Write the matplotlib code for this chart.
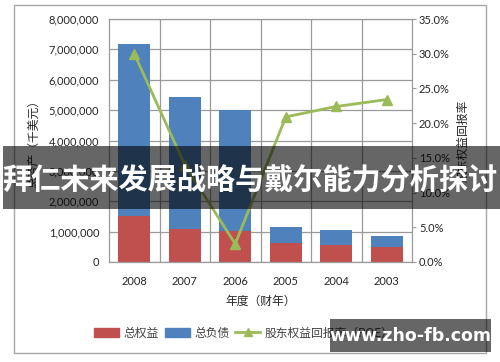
import matplotlib
matplotlib.use("Agg")
import matplotlib.pyplot as plt
from matplotlib.patches import Rectangle, Patch
from matplotlib.lines import Line2D
from matplotlib.ticker import FuncFormatter, MultipleLocator
import numpy as np

plt.rcParams['font.family'] = ['Lato', 'Noto Sans CJK SC', 'DejaVu Sans']

years = ['2008', '2007', '2006', '2005', '2004', '2003']
equity = [1500000, 1100000, 1020000, 640000, 550000, 500000]
liabilities = [5680000, 4330000, 4000000, 500000, 490000, 350000]
roe = [30.0, 14.0, 2.6, 20.9, 22.4, 23.4]

RED = '#C0504D'
BLUE = '#4F81BD'
GREEN = '#9BBB59'
GRID = '#9a9a9a'
TXT = '#262626'
CJK = ['Noto Sans CJK SC', 'DejaVu Sans']

fig = plt.figure(figsize=(5.0, 3.62), dpi=100)
fig.patch.set_facecolor('white')

# outer chart border
fig.patches.append(Rectangle((14/500, 1 - 353/362), (486-14)/500, (353-5)/362,
                             transform=fig.transFigure, fill=False,
                             edgecolor='#a6a6a6', linewidth=1.0, zorder=0))

ax = fig.add_axes([109/500, 1 - 262/362, (412-109)/500, (262-19)/362])
x = np.arange(len(years))
ax.bar(x, equity, width=0.63, color=RED, zorder=2)
ax.bar(x, liabilities, width=0.63, bottom=equity, color=BLUE, zorder=2)
ax.set_xlim(-0.5, len(years) - 0.5)
ax.set_ylim(0, 8000000)
ax.yaxis.set_major_locator(MultipleLocator(1000000))
ax.yaxis.set_major_formatter(FuncFormatter(lambda v, p: f'{int(v):,}'))
ax.set_xticks(x)
ax.set_xticklabels(years)
ax.set_xticks(np.arange(0.5, len(years) - 0.5, 1), minor=True)
ax.grid(True, axis='y', which='major', color=GRID, linewidth=0.9)
ax.grid(True, axis='x', which='minor', color=GRID, linewidth=0.9)
ax.set_axisbelow(True)
ax.tick_params(axis='both', which='both', length=0, labelsize=8, colors=TXT)
ax.tick_params(axis='y', pad=7)
ax.tick_params(axis='x', pad=10)
for s in ax.spines.values():
    s.set_color(GRID)
    s.set_linewidth(0.9)
ax.set_ylabel('总资产（千美元）', family=CJK, fontsize=8.5, color=TXT, labelpad=6)
ax.set_xlabel('年度（财年）', family=CJK, fontsize=8.5, color=TXT, labelpad=6)

ax2 = ax.twinx()
ax2.plot(x, roe, color=GREEN, linewidth=2.0, marker='^', markersize=7,
         markerfacecolor=GREEN, markeredgecolor=GREEN, zorder=3)
ax2.set_ylim(0, 35)
ax2.yaxis.set_major_locator(MultipleLocator(5))
ax2.yaxis.set_major_formatter(FuncFormatter(lambda v, p: f'{v:.1f}%'))
ax2.tick_params(axis='y', length=3, width=0.8, labelsize=8, pad=2)
ax2.tick_params(axis='y', colors=GRID, labelcolor=TXT)
for s in ax2.spines.values():
    s.set_visible(False)
ax2.set_ylabel('股东权益回报率', family=CJK, fontsize=8.5, color=TXT, labelpad=5)

handles = [Patch(facecolor=RED, edgecolor=RED),
           Patch(facecolor=BLUE, edgecolor=BLUE),
           Line2D([0], [0], color=GREEN, linewidth=2.0, marker='^', markersize=6)]
labels = ['总权益', '总负债', '股东权益回报率（ROE）']
leg = fig.legend(handles, labels, loc='center', bbox_to_anchor=(244/500, 1 - 333/362),
                 ncol=3, frameon=False, prop={'family': CJK, 'size': 8.5},
                 handlelength=2.1, handleheight=0.7, handletextpad=0.4,
                 columnspacing=0.5)
for t in leg.get_texts():
    t.set_color('#404040')

# banner overlay
fig.patches.append(Rectangle((3/500, 1 - 209/362), (500-3)/500, (209-146)/362,
                             transform=fig.transFigure, facecolor='black',
                             alpha=0.6, edgecolor='none', zorder=10))
fig.text(250/500, 1 - 181/362, '拜仁未来发展战略与戴尔能力分析探讨',
         family=CJK, fontsize=21, fontweight='bold', color='white',
         ha='center', va='center', zorder=11)

# watermark
fig.patches.append(Rectangle((330/500, 1 - 352/362), (491-330)/500, (352-319)/362,
                             transform=fig.transFigure, facecolor='black',
                             alpha=0.6, edgecolor='none', zorder=10))
fig.text(410/500, 1 - 336/362, 'www.zho-fb.com', family=['DejaVu Sans'],
         fontsize=12.5, fontweight='bold', color='white',
         ha='center', va='center', zorder=11)

fig.savefig('out.png', dpi=100, facecolor='white')
